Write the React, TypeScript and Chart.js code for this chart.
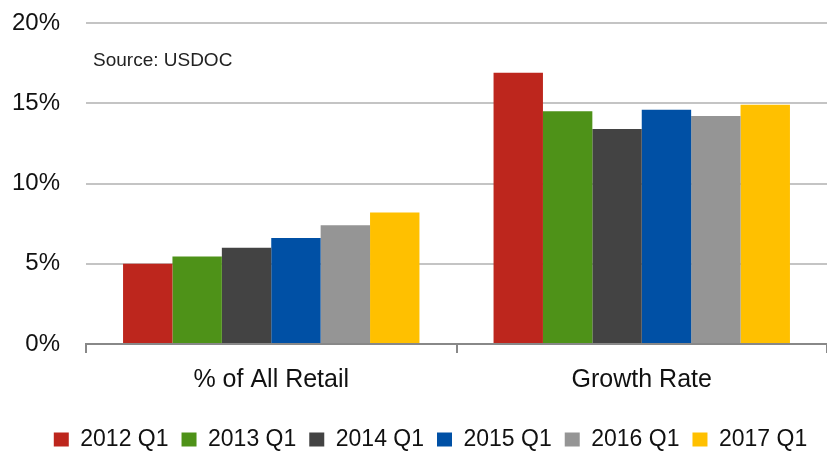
import React, { useEffect, useRef } from "react";
import { Chart, registerables } from "chart.js";

Chart.register(...registerables);

const categories = ["% of All Retail", "Growth Rate"];
const seriesLabels = ["2012 Q1", "2013 Q1", "2014 Q1", "2015 Q1", "2016 Q1", "2017 Q1"];
const s2012 = [5.0, 16.9];
const s2013 = [5.45, 14.5];
const s2014 = [6.0, 13.4];
const s2015 = [6.6, 14.6];
const s2016 = [7.4, 14.2];
const s2017 = [8.2, 14.9];
const colors = ["#BD261D", "#4E9218", "#434343", "#0050A5", "#959595", "#FFC000"];
const yTicks = [0, 5, 10, 15, 20];
const sourceText = "Source: USDOC";

const FONT = "'Liberation Sans', Arial, sans-serif";

export default function App() {
  const ref = useRef<HTMLCanvasElement>(null);
  useEffect(() => {
    const values = [s2012, s2013, s2014, s2015, s2016, s2017];
    const sourcePlugin = {
      id: "sourceNote",
      afterLayout(chart: any) {
        if (chart.legend) {
          chart.legend.left += 12;
          chart.legend.right += 12;
        }
      },
      afterDraw(chart: any) {
        const { ctx, chartArea } = chart;
        ctx.save();
        ctx.font = `19px ${FONT}`;
        ctx.fillStyle = "#222";
        ctx.textBaseline = "middle";
        ctx.fillText(sourceText, chartArea.left + 7, 61);
        ctx.restore();
      },
    };
    const chart = new Chart(ref.current!, {
      type: "bar",
      data: {
        labels: categories,
        datasets: seriesLabels.map((l, i) => ({
          label: l,
          data: values[i],
          backgroundColor: colors[i],
          borderWidth: 0,
          categoryPercentage: 0.8,
          barPercentage: 1.0,
        })),
      },
      options: {
        animation: false,
        responsive: false,
        maintainAspectRatio: false,
        layout: { padding: { top: 23, right: 0, left: 10, bottom: -10 } },
        plugins: {
          legend: {
            position: "bottom",
            labels: {
              font: { family: FONT, size: 23 },
              color: "#111",
              boxWidth: 15,
              boxHeight: 14,
              padding: 13,
            },
          },
          tooltip: { enabled: false },
        },
        scales: {
          x: {
            offset: true,
            afterFit(axis: any) {
              axis.height = axis.height + 8;
            },
            grid: {
              display: true,
              drawOnChartArea: false,
              drawTicks: true,
              tickLength: 9,
              color: "#888",
              lineWidth: 2,
            },
            border: { display: true, color: "#888", width: 2 },
            ticks: {
              font: { family: FONT, size: 25 },
              color: "#111",
              padding: 12,
            },
          },
          y: {
            min: 0,
            max: 20,
            afterBuildTicks(axis: any) {
              axis.ticks = yTicks.map((v) => ({ value: v }));
            },
            afterFit(axis: any) {
              axis.width = 76;
            },
            grid: {
              color: "#C4C4C4",
              lineWidth: 2,
              drawTicks: true,
              tickLength: 24,
              tickColor: "rgba(0,0,0,0)",
            },
            border: { display: false },
            ticks: {
              font: { family: FONT, size: 24 },
              color: "#111",
              padding: 2,
              callback: (v: any) => `${v}%`,
            },
          },
        },
      },
      plugins: [sourcePlugin],
    });
    return () => chart.destroy();
  }, []);
  return (
    <div style={{ position: "absolute", left: 0, top: 0, width: 827, height: 451, background: "#fff" }}>
      <canvas ref={ref} width={827} height={451} />
    </div>
  );
}
